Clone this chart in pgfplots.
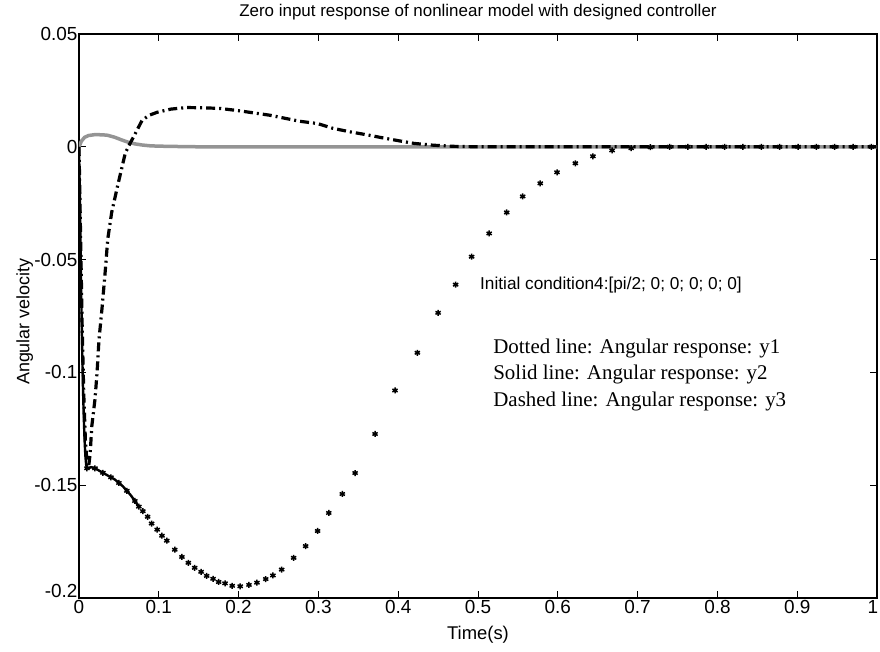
\documentclass[border=0pt]{standalone}
\usepackage{pgfplots}
\pgfplotsset{compat=1.18}
\usepackage{fontspec}
\setmainfont{Liberation Serif}
\setsansfont{Liberation Sans}
\begin{document}
\begin{tikzpicture}
\useasboundingbox (-79bp,-54bp) rectangle (801bp,598bp);
\begin{axis}[
  width=798bp, height=564bp, scale only axis,
  xmin=0, xmax=1, ymin=-0.2, ymax=0.05,
  xtick={0,0.1,0.2,0.3,0.4,0.5,0.6,0.7,0.8,0.9,1},
  xticklabels={0,0.1,0.2,0.3,0.4,0.5,0.6,0.7,0.8,0.9,\kern-8bp 1},
  ytick={-0.2,-0.15,-0.1,-0.05,0,0.05},
  yticklabels={\raisebox{1bp}[0pt][0pt]{-0.2},-0.15,-0.1,-0.05,0,0.05},
  tick align=inside, tick pos=both, major tick length=7bp,
  axis line style={line width=1.1bp},
  tick style={black, line width=0.9bp},
  ticklabel style={font=\sffamily\fontsize{19}{20}\selectfont},
  xticklabel style={yshift=1bp},
  yticklabel style={xshift=2bp},
  title={Zero input response of nonlinear model with designed controller},
  title style={font=\sffamily\fontsize{17}{18}\selectfont, at={(axis description cs:0.5,1)}, anchor=center, yshift=16bp},
  xlabel={Time(s)},
  xlabel style={font=\sffamily\fontsize{18.5}{19}\selectfont, at={(axis description cs:0.5,0)}, anchor=center, yshift=-37bp},
  ylabel={Angular velocity},
  ylabel style={font=\sffamily\fontsize{18}{19}\selectfont, at={(axis description cs:-0.068,0.49)}, anchor=center},
  clip=true,
]
% Solid line y2 (gray)
\addplot[color=black!42, line width=3.5bp] coordinates {
(0,0) (0.003,0.0025) (0.007,0.0042) (0.012,0.0050) (0.020,0.0054) (0.030,0.0053)
(0.036,0.0051) (0.045,0.0042) (0.053,0.0031) (0.061,0.0021) (0.070,0.0013)
(0.079,0.0008) (0.090,0.0004) (0.110,0.0002) (0.150,0) (0.3,0) (0.5,0) (0.7,0) (1,0)
};
% Dashed (dash-dot) line y3
\addplot[color=black, line width=3.2bp, dash pattern=on 9bp off 4bp on 2bp off 4bp] coordinates {
(0,0) (0.002,-0.04) (0.004,-0.08) (0.006,-0.11) (0.008,-0.13) (0.010,-0.140)
(0.012,-0.142) (0.014,-0.136) (0.016,-0.124) (0.020,-0.112) (0.0226,-0.1003)
(0.025,-0.0857) (0.029,-0.071) (0.033,-0.0546) (0.036,-0.041) (0.041,-0.029)
(0.048,-0.0179) (0.058,-0.0028) (0.064,0.0015) (0.070,0.0055) (0.079,0.0117)
(0.088,0.0140) (0.098,0.0153) (0.115,0.0167) (0.135,0.0174) (0.155,0.0173)
(0.177,0.0170) (0.200,0.0160) (0.239,0.0140) (0.277,0.0113) (0.299,0.0103)
(0.318,0.0082) (0.340,0.0066) (0.361,0.0053) (0.380,0.0040) (0.402,0.0026)
(0.420,0.0015) (0.444,0.0007) (0.470,0.0002) (0.500,0) (0.7,0) (1,0)
};
% Dotted y1: dense early part as a line
\addplot[color=black, line width=2.4bp] coordinates {
(0,0) (0.001,-0.02) (0.002,-0.045) (0.003,-0.07) (0.004,-0.09) (0.005,-0.107)
(0.006,-0.120) (0.007,-0.130) (0.008,-0.137) (0.009,-0.141) (0.010,-0.1425)
(0.012,-0.1425) (0.015,-0.1420) (0.020,-0.1425) (0.025,-0.1435) (0.030,-0.1445)
(0.035,-0.1455) (0.040,-0.1465) (0.045,-0.1475) (0.050,-0.1490) (0.055,-0.1505)
(0.060,-0.1525) (0.065,-0.1545) (0.070,-0.1570) (0.075,-0.1595)
};
% Dotted y1: star markers
\addplot[color=black, only marks, mark=asterisk, mark size=3bp, line width=1.5bp] coordinates {
(0.010,-0.1425) (0.020,-0.1425) (0.030,-0.1445) (0.040,-0.1465) (0.050,-0.1490)
(0.060,-0.1525) (0.070,-0.1570) (0.075,-0.1595)
(0.080,-0.1615) (0.086,-0.1640) (0.091,-0.1670) (0.098,-0.1697) (0.104,-0.1724)
(0.110,-0.1746) (0.120,-0.1786) (0.129,-0.1818) (0.137,-0.1844) (0.145,-0.1866)
(0.153,-0.1884) (0.160,-0.1902) (0.168,-0.1915) (0.175,-0.1929) (0.183,-0.1935)
(0.192,-0.1946) (0.202,-0.1948) (0.213,-0.1942) (0.223,-0.1932) (0.234,-0.1916)
(0.243,-0.1900) (0.254,-0.1874) (0.269,-0.1822) (0.284,-0.1770) (0.299,-0.1703)
(0.313,-0.1623) (0.330,-0.1539) (0.346,-0.1446) (0.371,-0.1273) (0.396,-0.1080)
(0.424,-0.0913) (0.450,-0.0736) (0.472,-0.0611) (0.492,-0.0487) (0.514,-0.0384)
(0.536,-0.0291) (0.556,-0.0220) (0.578,-0.0162) (0.599,-0.0113) (0.622,-0.0073)
(0.644,-0.0042) (0.668,-0.0016) (0.692,-0.0006) (0.716,-0.0002) (0.740,0)
(0.763,0) (0.786,0) (0.809,0) (0.832,0) (0.855,0) (0.878,0) (0.901,0)
(0.924,0) (0.947,0) (0.970,0) (0.993,0)
};
\node[anchor=west, font=\sffamily\fontsize{17.3}{18}\selectfont, inner sep=0pt] at (axis cs:0.5025,-0.0611) {Initial condition4:[pi/2; 0; 0; 0; 0; 0]};
\node[anchor=base west, font=\fontsize{21}{22}\selectfont, inner sep=0pt] at (axis cs:0.519,-0.0915) {Dotted line: Angular response: y1};
\node[anchor=base west, font=\fontsize{21}{22}\selectfont, inner sep=0pt] at (axis cs:0.519,-0.1033) {Solid line: Angular response: y2};
\node[anchor=base west, font=\fontsize{21}{22}\selectfont, inner sep=0pt] at (axis cs:0.519,-0.1151) {Dashed line: Angular response: y3};
\end{axis}
\end{tikzpicture}
\end{document}
